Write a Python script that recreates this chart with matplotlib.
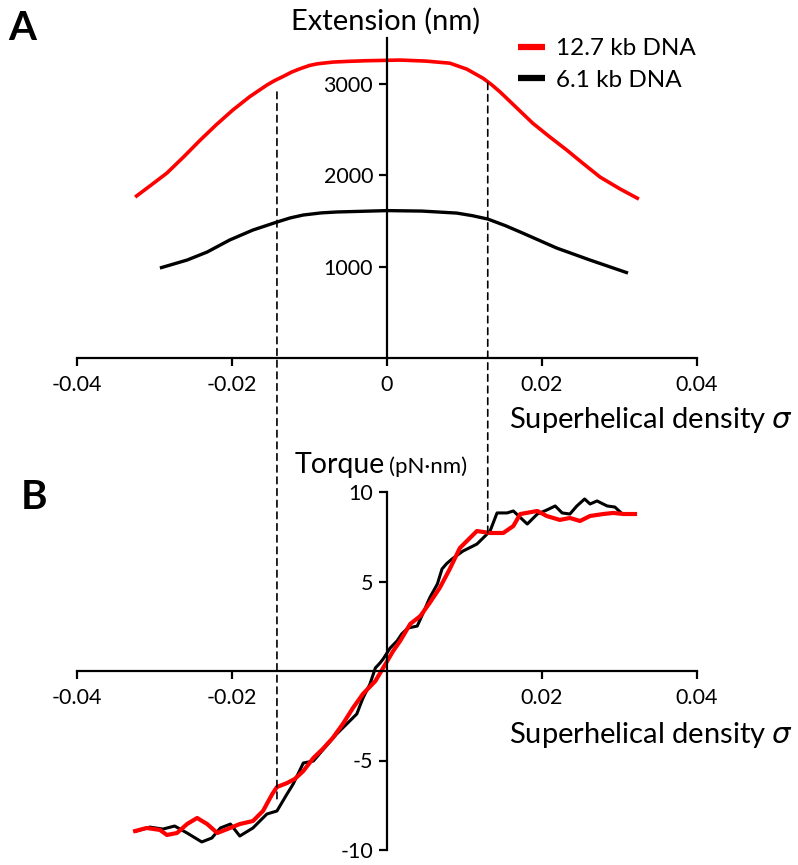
import numpy as np
import matplotlib.pyplot as plt
from matplotlib.patches import ConnectionPatch

plt.rcParams['font.family'] = ['Lato', 'DejaVu Sans']
plt.rcParams['mathtext.fontset'] = 'dejavusans'
plt.rcParams['axes.unicode_minus'] = False

# Panel A: extension vs superhelical density
sigma_red_a = [-0.0325, -0.0305, -0.0284, -0.0262, -0.0241, -0.0220, -0.0199, -0.0177,
               -0.0155, -0.0145, -0.0134, -0.0123, -0.0112, -0.0100, -0.0090, -0.0070,
               -0.0050, -0.0026, 0.0017, 0.0050, 0.0081, 0.0103, 0.0124, 0.0135,
               0.0146, 0.0167, 0.0188, 0.0210, 0.0232, 0.0253, 0.0275, 0.0300, 0.0325]
ext_red = [1763, 1890, 2025, 2205, 2385, 2555, 2713, 2860,
           2986, 3035, 3080, 3128, 3165, 3200, 3218, 3237,
           3245, 3252, 3259, 3248, 3225, 3160, 3060, 2990,
           2910, 2740, 2570, 2420, 2276, 2130, 1981, 1855, 1741]

sigma_blk_a = [-0.0293, -0.0258, -0.0232, -0.0203, -0.0173, -0.0142, -0.0125, -0.0108,
               -0.0085, -0.0065, 0.0, 0.0045, 0.0090, 0.0110, 0.0130, 0.0153,
               0.0175, 0.0219, 0.0262, 0.0311]
ext_blk = [988, 1075, 1163, 1294, 1403, 1490, 1535, 1567,
           1590, 1600, 1615, 1610, 1588, 1560, 1523, 1450,
           1370, 1206, 1075, 933]

# Panel B: torque vs superhelical density
sigma_blk_b = [-0.0323, -0.0306, -0.0289, -0.0274, -0.0258, -0.0239, -0.0226, -0.0215,
               -0.0202, -0.0190, -0.0173, -0.0155, -0.0142, -0.0129, -0.0121, -0.0108,
               -0.0095, -0.0084, -0.0065, -0.0048, -0.0039, -0.0031, -0.0022, -0.0015,
               -0.0009, -0.0005, 0.0004, 0.0013, 0.0019, 0.0027, 0.0039, 0.0046,
               0.0055, 0.0065, 0.0071, 0.0077, 0.0084, 0.0098, 0.0116, 0.0124,
               0.0133, 0.0142, 0.0155, 0.0163, 0.0181, 0.0194, 0.0206, 0.0217,
               0.0226, 0.0236, 0.0245, 0.0255, 0.0262, 0.0271, 0.0284, 0.0294, 0.0301]
torque_blk = [-8.94, -8.72, -8.83, -8.66, -9.05, -9.55, -9.33, -8.77,
              -8.55, -9.22, -8.77, -7.99, -7.82, -6.87, -6.31, -5.14,
              -5.03, -4.47, -3.52, -2.79, -2.40, -1.51, -0.73, 0.17,
              0.45, 0.67, 1.28, 1.68, 2.07, 2.40, 2.51, 3.18,
              4.08, 4.86, 5.70, 6.00, 6.26, 6.70, 7.09, 7.43,
              7.82, 8.83, 8.83, 8.94, 8.21, 8.77, 8.99, 9.22,
              8.83, 8.77, 9.22, 9.61, 9.33, 9.50, 9.22, 9.16, 8.88]

sigma_red_b = [-0.0325, -0.0310, -0.0293, -0.0284, -0.0271, -0.0258, -0.0245, -0.0232,
               -0.0219, -0.0206, -0.0190, -0.0173, -0.0160, -0.0148, -0.0142, -0.0129,
               -0.0119, -0.0108, -0.0095, -0.0083, -0.0070, -0.0057, -0.0044, -0.0031,
               -0.0015, -0.0005, 0.0008, 0.0017, 0.0030, 0.0043, 0.0055, 0.0068,
               0.0081, 0.0094, 0.0116, 0.0133, 0.0150, 0.0163, 0.0172, 0.0194,
               0.0206, 0.0223, 0.0236, 0.0249, 0.0262, 0.0279, 0.0292, 0.0305, 0.0320]
torque_red = [-8.94, -8.77, -8.88, -9.16, -9.05, -8.55, -8.21, -8.55,
              -9.05, -8.83, -8.55, -8.38, -7.82, -6.87, -6.48, -6.26,
              -6.03, -5.59, -4.86, -4.36, -3.74, -2.96, -2.07, -1.28,
              -0.56, 0.17, 1.12, 1.68, 2.63, 3.07, 3.80, 4.64,
              5.70, 6.87, 7.82, 7.71, 7.71, 8.10, 8.77, 8.94,
              8.66, 8.44, 8.55, 8.38, 8.66, 8.77, 8.83, 8.77, 8.77]

x_ticks = [-0.04, -0.02, 0, 0.02, 0.04]
ext_ticks = [1000, 2000, 3000]
torque_ticks = [-10, -5, 5, 10]

# dashed guides linking the two panels
guide_sigma = [-0.0142, 0.0130]
guide_ext = [2910, 3010]
guide_torque = [-7.2, 7.7]

W, H = 798, 865
fig = plt.figure(figsize=(W / 100, H / 100), dpi=100)
axA = fig.add_axes([77 / W, 1 - 358.5 / H, 620 / W, 320.5 / H])
axB = fig.add_axes([77 / W, 1 - 850 / H, 620 / W, 358 / H])


def style_axes(ax):
    for side in ('top', 'right'):
        ax.spines[side].set_visible(False)
    ax.spines['left'].set_position(('data', 0))
    ax.spines['bottom'].set_position(('data', 0))
    for side in ('left', 'bottom'):
        ax.spines[side].set_linewidth(1.6)
    ax.tick_params(axis='both', direction='out', length=6, width=1.6,
                   labelsize=15.5, pad=4)
    ax.tick_params(axis='x', pad=6)
    ax.set_xlim(-0.04, 0.04)
    ax.set_xticks(x_ticks)


style_axes(axA)
axA.set_ylim(0, 3500)
axA.set_yticks(ext_ticks)
axA.set_xticklabels(['-0.04', '-0.02', '0', '0.02', '0.04'])
axA.plot(sigma_red_a, ext_red, color='#ff0000', lw=2.6, label='12.7 kb DNA',
         solid_capstyle='butt')
axA.plot(sigma_blk_a, ext_blk, color='black', lw=2.4, label='6.1 kb DNA',
         solid_capstyle='butt')
leg = axA.legend(loc='upper left', bbox_to_anchor=(518 / W, 1 - 38 / H),
                 bbox_transform=fig.transFigure, frameon=False, fontsize=17.5,
                 handlelength=1.1, handletextpad=0.45, borderaxespad=0, borderpad=0,
                 labelspacing=0.45)
for line in leg.get_lines():
    line.set_linewidth(4.5)

style_axes(axB)
axB.set_ylim(-10, 10)
axB.set_yticks(torque_ticks)
axB.set_yticklabels(['-10', '-5', '5', '10'])
axB.set_xticks([-0.04, -0.02, 0.02, 0.04])
axB.set_xticklabels(['-0.04', '-0.02', '0.02', '0.04'])
axB.plot(sigma_blk_b, torque_blk, color='black', lw=2.2)
axB.plot(sigma_red_b, torque_red, color='#ff0000', lw=3.0)

for s, e, t in zip(guide_sigma, guide_ext, guide_torque):
    con = ConnectionPatch(xyA=(s, e), coordsA=axA.transData,
                          xyB=(s, t), coordsB=axB.transData,
                          color='black', lw=1.2, linestyle=(0, (4, 3)))
    fig.add_artist(con)

# axis titles and panel letters
fig.text(386 / W, 1 - 21 / H, 'Extension (nm)', ha='center', va='center', fontsize=21)
fig.text(793 / W, 1 - 420 / H, 'Superhelical density $\\sigma$', ha='right',
         va='center', fontsize=21)
fig.text(793 / W, 1 - 735 / H, 'Superhelical density $\\sigma$', ha='right',
         va='center', fontsize=21)
fig.text(385 / W, 1 - 473 / H, 'Torque', ha='right', va='baseline', fontsize=20.5)
fig.text(389 / W, 1 - 473 / H, '(pN·nm)', ha='left', va='baseline', fontsize=16)
fig.text(8 / W, 1 - 40 / H, 'A', ha='left', va='baseline', fontsize=29,
         fontweight='bold')
fig.text(21 / W, 1 - 509 / H, 'B', ha='left', va='baseline', fontsize=29,
         fontweight='bold')

fig.savefig('out.png', dpi=100)
